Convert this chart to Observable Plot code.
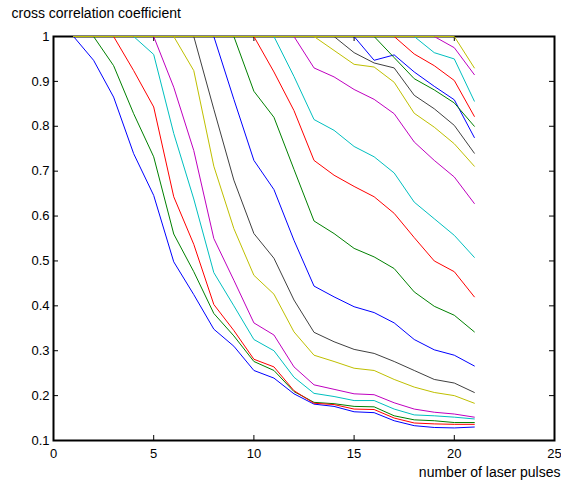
<!DOCTYPE html>
<html><head><meta charset="utf-8">
<script src="https://cdn.jsdelivr.net/npm/d3@7"></script>
<script src="https://cdn.jsdelivr.net/npm/@observablehq/plot@0.6"></script>
<style>html,body{margin:0;padding:0;background:#fff;}</style>
</head><body><div id="chart"></div>
<script>
const pulses = [1,2,3,4,5,6,7,8,9,10,11,12,13,14,15,16,17,18,19,20,21];

const s01 = [1, 0.947, 0.865, 0.739, 0.646, 0.498, 0.425, 0.348, 0.310, 0.256, 0.239, 0.204, 0.181, 0.176, 0.164, 0.162, 0.144, 0.133, 0.129, 0.128, 0.130];
const s02 = [1, 1, 0.935, 0.828, 0.732, 0.560, 0.476, 0.383, 0.333, 0.276, 0.256, 0.209, 0.185, 0.182, 0.176, 0.175, 0.155, 0.146, 0.144, 0.140, 0.140];
const s03 = [1, 1, 1, 0.924, 0.843, 0.643, 0.537, 0.403, 0.345, 0.281, 0.264, 0.211, 0.183, 0.180, 0.170, 0.169, 0.150, 0.139, 0.137, 0.136, 0.136];
const s04 = [1, 1, 1, 1, 0.960, 0.784, 0.638, 0.474, 0.400, 0.325, 0.300, 0.241, 0.205, 0.198, 0.189, 0.189, 0.170, 0.157, 0.155, 0.152, 0.148];
const s05 = [1, 1, 1, 1, 1, 0.887, 0.746, 0.550, 0.457, 0.362, 0.335, 0.264, 0.224, 0.214, 0.204, 0.202, 0.184, 0.170, 0.163, 0.159, 0.152];
const s06 = [1, 1, 1, 1, 1, 1, 0.924, 0.711, 0.572, 0.468, 0.426, 0.342, 0.290, 0.276, 0.261, 0.256, 0.236, 0.219, 0.207, 0.200, 0.183];
const s07 = [1, 1, 1, 1, 1, 1, 1, 0.838, 0.680, 0.561, 0.506, 0.413, 0.341, 0.320, 0.303, 0.294, 0.276, 0.256, 0.236, 0.228, 0.207];
const s08 = [1, 1, 1, 1, 1, 1, 1, 1, 0.860, 0.724, 0.659, 0.546, 0.444, 0.420, 0.398, 0.385, 0.362, 0.325, 0.302, 0.290, 0.266];
const s09 = [1, 1, 1, 1, 1, 1, 1, 1, 1, 0.878, 0.820, 0.704, 0.589, 0.561, 0.528, 0.509, 0.483, 0.431, 0.399, 0.379, 0.342];
const s10 = [1, 1, 1, 1, 1, 1, 1, 1, 1, 1, 0.921, 0.835, 0.724, 0.691, 0.666, 0.643, 0.606, 0.552, 0.500, 0.476, 0.420];
const s11 = [1, 1, 1, 1, 1, 1, 1, 1, 1, 1, 1, 0.911, 0.815, 0.791, 0.755, 0.732, 0.696, 0.631, 0.594, 0.557, 0.508];
const s12 = [1, 1, 1, 1, 1, 1, 1, 1, 1, 1, 1, 1, 0.930, 0.910, 0.882, 0.860, 0.828, 0.765, 0.724, 0.687, 0.628];
const s13 = [1, 1, 1, 1, 1, 1, 1, 1, 1, 1, 1, 1, 1, 0.969, 0.938, 0.932, 0.898, 0.829, 0.798, 0.761, 0.711];
const s14 = [1, 1, 1, 1, 1, 1, 1, 1, 1, 1, 1, 1, 1, 1, 0.964, 0.941, 0.930, 0.869, 0.839, 0.802, 0.740];
const s15 = [1, 1, 1, 1, 1, 1, 1, 1, 1, 1, 1, 1, 1, 1, 1, 0.947, 0.959, 0.921, 0.889, 0.859, 0.775];
const s16 = [1, 1, 1, 1, 1, 1, 1, 1, 1, 1, 1, 1, 1, 1, 1, 1, 0.953, 0.906, 0.881, 0.852, 0.800];
const s17 = [1, 1, 1, 1, 1, 1, 1, 1, 1, 1, 1, 1, 1, 1, 1, 1, 1, 0.961, 0.935, 0.902, 0.822];
const s18 = [1, 1, 1, 1, 1, 1, 1, 1, 1, 1, 1, 1, 1, 1, 1, 1, 1, 1, 0.964, 0.950, 0.856];
const s19 = [1, 1, 1, 1, 1, 1, 1, 1, 1, 1, 1, 1, 1, 1, 1, 1, 1, 1, 1, 0.975, 0.915];
const s20 = [1, 1, 1, 1, 1, 1, 1, 1, 1, 1, 1, 1, 1, 1, 1, 1, 1, 1, 1, 1, 0.930];

const seriesValues = [s01, s02, s03, s04, s05, s06, s07, s08, s09, s10, s11, s12, s13, s14, s15, s16, s17, s18, s19, s20];
const palette = ["#0000ff", "#008000", "#ff0000", "#00bfbf", "#bf00bf", "#bfbf00", "#404040"];

const xTicks = [0, 5, 10, 15, 20, 25];
const xTickLabels = ["0", "5", "10", "15", "20", "25"];
const yTicks = [0.1, 0.2, 0.3, 0.4, 0.5, 0.6, 0.7, 0.8, 0.9, 1];
const yTickLabels = ["0.1", "0.2", "0.3", "0.4", "0.5", "0.6", "0.7", "0.8", "0.9", "1"];
const yTitle = "cross correlation coefficient";
const xTitle = "number of laser pulses";

const rows = seriesValues.flatMap((vals, i) =>
  vals.map((v, j) => ({series: i, pulse: pulses[j], value: v})));

const W = 561, H = 483, mL = 53, mR = 7, mT = 36, mB = 43;
const fw = W - mL - mR, fh = H - mT - mB, tk = 5;
const font = "'Liberation Sans', Arial, Helvetica, sans-serif";

const chart = Plot.plot({
  width: W, height: H,
  marginLeft: mL, marginRight: mR, marginTop: mT, marginBottom: mB,
  style: {fontFamily: font, background: "#fff", color: "#000"},
  x: {domain: [0, 25]},
  y: {domain: [0.1, 1]},
  marks: [
    Plot.frame({stroke: "#000", strokeWidth: 2}),
    Plot.tickY(yTicks, {y: d => d, insetRight: fw - tk, stroke: "#000"}),
    Plot.tickY(yTicks, {y: d => d, insetLeft: fw - tk, stroke: "#000"}),
    Plot.tickX(xTicks, {x: d => d, insetTop: fh - tk, stroke: "#000"}),
    Plot.tickX(xTicks, {x: d => d, insetBottom: fh - tk, stroke: "#000"}),
    Plot.axisY({ticks: yTicks, tickSize: 0, tickPadding: 4, fontSize: 13, label: null,
      tickFormat: d => yTickLabels[yTicks.indexOf(d)]}),
    Plot.axisX({ticks: xTicks, tickSize: 0, tickPadding: 8, fontSize: 13, label: null,
      tickFormat: d => xTickLabels[xTicks.indexOf(d)]}),
    Plot.line(rows, {x: "pulse", y: "value", z: "series",
      stroke: d => palette[d.series % palette.length], strokeWidth: 1}),
    Plot.text([yTitle], {frameAnchor: "top-left", text: d => d, textAnchor: "start",
      lineAnchor: "bottom", dx: -42, dy: -19, fontSize: 14, fill: "#000"}),
    Plot.text([xTitle], {frameAnchor: "bottom-right", text: d => d, textAnchor: "end",
      lineAnchor: "bottom", dx: 6, dy: 36, fontSize: 14, fill: "#000"})
  ]
});
document.getElementById("chart").appendChild(chart);
</script>
</body></html>
